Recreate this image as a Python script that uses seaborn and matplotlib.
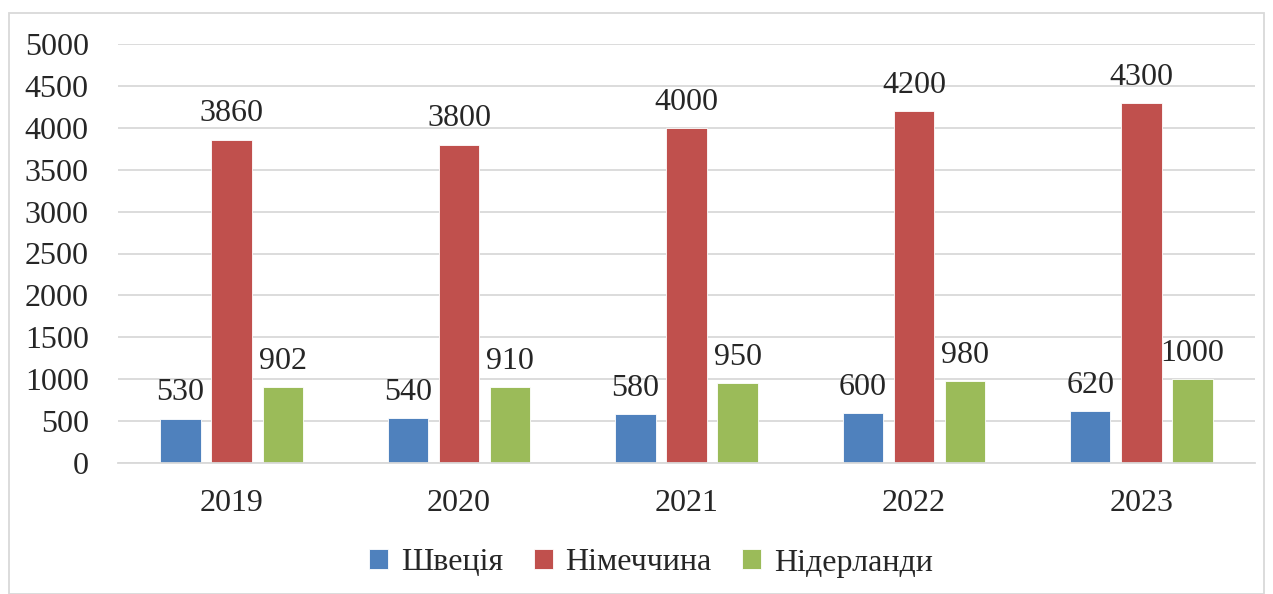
import matplotlib
matplotlib.use('Agg')
import matplotlib.pyplot as plt
import seaborn as sns
import pandas as pd
from matplotlib.patches import Rectangle

years = ['2019', '2020', '2021', '2022', '2023']
countries = ['Швеція', 'Німеччина', 'Нідерланди']
sweden = [530, 540, 580, 600, 620]
germany = [3860, 3800, 4000, 4200, 4300]
netherlands = [902, 910, 950, 980, 1000]
colors = ['#4F81BD', '#C0504D', '#9BBB59']

data = pd.DataFrame({
    'year': years * 3,
    'country': [countries[0]] * 5 + [countries[1]] * 5 + [countries[2]] * 5,
    'value': sweden + germany + netherlands,
})

sns.set_style('white')
plt.rcParams['font.family'] = ['Liberation Serif', 'DejaVu Serif']

fig = plt.figure(figsize=(12.73, 5.94), dpi=100)
ax = fig.add_axes([118 / 1273, 1 - 463 / 594, (1255 - 118) / 1273, (463 - 44) / 594])

sns.barplot(data=data, x='year', y='value', hue='country', palette=colors, saturation=1,
            width=0.675, gap=0.21, ax=ax, legend=True, edgecolor='white', linewidth=0.6)

for cont in ax.containers:
    ax.bar_label(cont, padding=8, fontsize=23)

ax.set_ylim(0, 5000)
ax.set_yticks(range(0, 5001, 500))
ax.yaxis.grid(True, color='#d9d9d9', linewidth=1.3)
ax.set_axisbelow(True)
for s in ['top', 'right', 'left']:
    ax.spines[s].set_visible(False)
ax.spines['bottom'].set_color('#d9d9d9')
ax.spines['bottom'].set_linewidth(1.3)
ax.tick_params(axis='both', length=0, labelsize=23)
ax.tick_params(axis='x', pad=19)
ax.tick_params(axis='y', pad=21)
ax.set_xlabel('')
ax.set_ylabel('')

handles, labels = ax.get_legend_handles_labels()
ax.legend(handles, labels, loc='center', bbox_to_anchor=(651 / 1273, 1 - 563 / 594),
          bbox_transform=fig.transFigure, ncol=3, frameon=False, fontsize=23,
          handlelength=0.6, handleheight=0.6, handletextpad=0.4, columnspacing=0.95)

fig.patches.append(Rectangle((9 / 1273, 0), (1264 - 9) / 1273, 1 - 13 / 594,
                             transform=fig.transFigure, fill=False,
                             edgecolor='#d9d9d9', linewidth=1.3))

fig.savefig('out.png', dpi=100)
